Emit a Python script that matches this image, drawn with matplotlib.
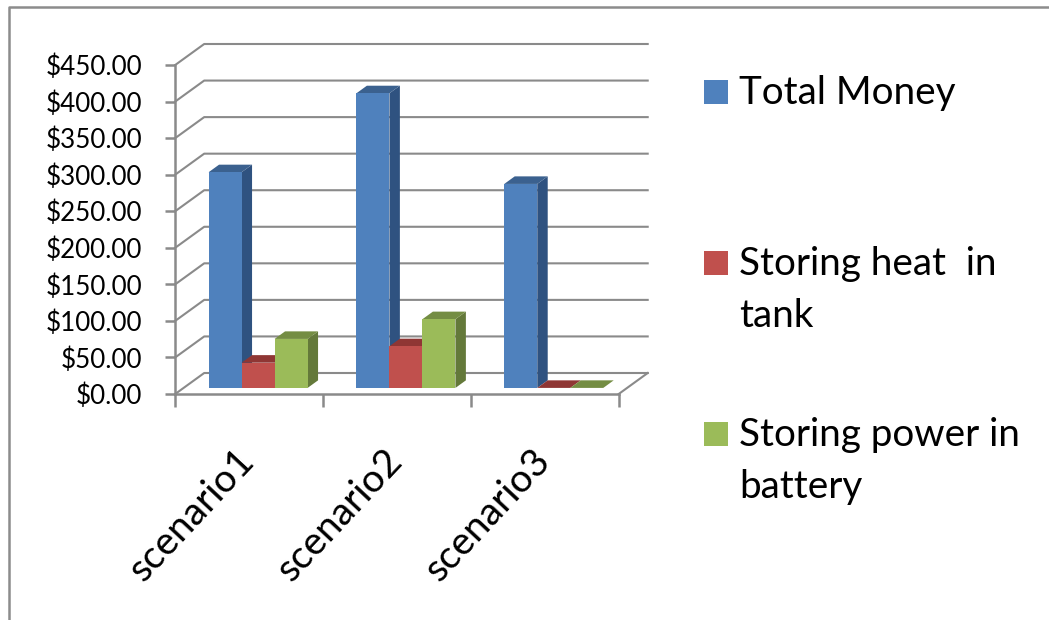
import matplotlib
matplotlib.use('Agg')
import matplotlib.pyplot as plt
from matplotlib.lines import Line2D
from matplotlib.patches import Polygon, Rectangle

plt.rcParams['font.family'] = ['Lato', 'DejaVu Sans']

# Values
scenarios = ['scenario1', 'scenario2', 'scenario3']
total_money = [295, 403, 279]
storing_heat = [34.5, 57, 0]
storing_power = [67, 94, 0]
y_ticks = [0, 50, 100, 150, 200, 250, 300, 350, 400, 450]

W, H = 1049, 620
GREY = '#8a8a8a'


def fx(px):
    return px / W


def fy(py):
    return 1 - py / H


fig = plt.figure(figsize=(W / 100, H / 100), dpi=100, facecolor='white')

# front plane of the fake 3d box
ax = fig.add_axes([fx(175.2), fy(394), (618.7 - 175.2) / W, (394 - 65) / H])
ax.set_xlim(0, 3)
ax.set_ylim(0, 450)
ax.patch.set_visible(False)

# depth of the box, in data units
cat_px = (618.7 - 175.2) / 3
depth_x = 29 / cat_px
depth_y = 21 * 450 / 329

for s in ['top', 'right']:
    ax.spines[s].set_visible(False)
for s in ['left', 'bottom']:
    ax.spines[s].set_color(GREY)
    ax.spines[s].set_linewidth(1.8)

ax.set_yticks(y_ticks)
ax.set_yticklabels(['${:.2f}'.format(v) for v in y_ticks], fontsize=18.7, color='black')
ax.tick_params(axis='y', length=7, width=1.8, color=GREY, pad=17)
ax.set_xticks([0, 1, 2, 3])
ax.set_xticklabels([])
ax.tick_params(axis='x', length=9.5, width=1.8, color=GREY)

# gridlines: diagonal on the side wall, then along the back wall
for v in y_ticks:
    ax.plot([0, depth_x, 3 + depth_x], [v, v + depth_y, v + depth_y],
            color=GREY, lw=1.5, clip_on=False, zorder=1)
ax.plot([3, 3 + depth_x], [0, depth_y], color=GREY, lw=1.5, clip_on=False, zorder=1)

series = [
    (total_money, '#4f81bd', '#3b618f', '#2f5280'),
    (storing_heat, '#c0504d', '#8f3634', '#7f302e'),
    (storing_power, '#9bbb59', '#748d43', '#64793a'),
]

bar_w = 33 / cat_px
group_start = 25 / cat_px
near = 0.29
far = 0.65

z = 3
for c in range(len(scenarios)):
    for s, (vals, front, top, side) in enumerate(series):
        v = vals[c]
        x0 = c + group_start + s * bar_w + near * depth_x
        x1 = x0 + bar_w
        y0 = near * depth_y
        y1 = y0 + v
        ox = (far - near) * depth_x
        oy = (far - near) * depth_y
        ax.add_patch(Polygon([(x1, y0), (x1 + ox, y0 + oy), (x1 + ox, y1 + oy), (x1, y1)],
                             facecolor=side, edgecolor='none', clip_on=False, zorder=z))
        ax.add_patch(Polygon([(x0, y1), (x1, y1), (x1 + ox, y1 + oy), (x0 + ox, y1 + oy)],
                             facecolor=top, edgecolor='none', clip_on=False, zorder=z))
        if v > 0:
            ax.bar(x0, v, width=bar_w, bottom=y0, align='edge', color=front,
                   clip_on=False, zorder=z)
        z += 1

# category labels sit under their category, rotated
for i, name in enumerate(scenarios):
    ax.annotate(name, xy=(i + 0.5, 0), xytext=(-57, -121), textcoords='offset pixels',
                rotation=47, ha='center', va='center', rotation_mode='anchor',
                fontsize=28, color='black', annotation_clip=False)

# legend
legend_rows = [
    ('#4f81bd', 104, ['Total Money']),
    ('#c0504d', 275, ['Storing heat  in', 'tank']),
    ('#9bbb59', 446, ['Storing power in', 'battery']),
]
for color, base, text_lines in legend_rows:
    fig.add_artist(Rectangle((fx(704), fy(base)), 24 / W, 24 / H, transform=fig.transFigure,
                             facecolor=color, edgecolor='none'))
    for i, t in enumerate(text_lines):
        fig.text(fx(739), fy(base + i * 52), t, ha='left', va='baseline',
                 fontsize=27.8, color='black')

# frame of the pasted picture
fig.add_artist(Line2D([fx(8.7), fx(8.7), 1], [0, fy(6.5), fy(6.5)], transform=fig.transFigure,
                      color='#8c8c8c', lw=1.8))

fig.savefig('out.png', dpi=100)
